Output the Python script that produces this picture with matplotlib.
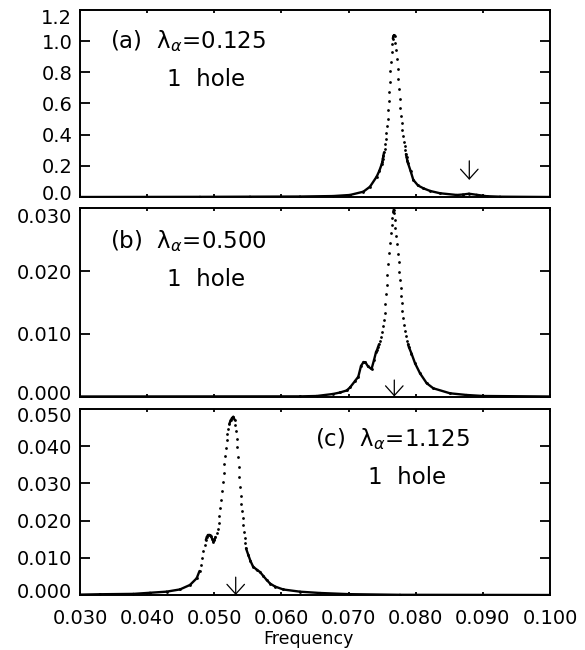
import numpy as np
import matplotlib
matplotlib.use("Agg")
import matplotlib.pyplot as plt
from matplotlib.collections import LineCollection
from matplotlib.transforms import ScaledTranslation

# ---------------- data ----------------
freq_ticks = [0.030, 0.040, 0.050, 0.060, 0.070, 0.080, 0.090, 0.100]
freq_labels = ["0.030", "0.040", "0.050", "0.060", "0.070", "0.080", "0.090", "0.100"]

a_ticks = [0.0, 0.2, 0.4, 0.6, 0.8, 1.0, 1.2]
a_labels = ["0.0", "0.2", "0.4", "0.6", "0.8", "1.0", "1.2"]
b_ticks = [0.000, 0.010, 0.020, 0.030]
b_labels = ["0.000", "0.010", "0.020", "0.030"]
c_ticks = [0.000, 0.010, 0.020, 0.030, 0.040, 0.050]
c_labels = ["0.000", "0.010", "0.020", "0.030", "0.040", "0.050"]

# panel (a)  lambda_alpha = 0.125
a_freq = [0.03000, 0.04787, 0.05532, 0.06277, 0.06768, 0.07021, 0.07220, 0.07319,
          0.07419, 0.07458,
          0.07494, 0.07503, 0.07510, 0.07519, 0.07528, 0.07537, 0.07546, 0.07555,
          0.07564, 0.07573, 0.07580, 0.07589, 0.07598, 0.07607, 0.07616, 0.07623,
          0.07632, 0.07641, 0.07650, 0.07659, 0.07666, 0.07677,
          0.07687, 0.07698, 0.07708, 0.07719, 0.07729, 0.07739, 0.07750, 0.07760,
          0.07771, 0.07781, 0.07792, 0.07802, 0.07812, 0.07823, 0.07833, 0.07844,
          0.07854, 0.07865, 0.07875, 0.07885,
          0.07923, 0.07964, 0.08034, 0.08113, 0.08213, 0.08362, 0.08611, 0.08705,
          0.08794, 0.08909, 0.09058, 0.09256, 0.10000]
a_amp = [0.000, 0.001, 0.002, 0.003, 0.006, 0.013, 0.034, 0.066,
         0.131, 0.168,
         0.211, 0.226, 0.245, 0.265, 0.286, 0.310, 0.340, 0.372,
         0.411, 0.458, 0.503, 0.557, 0.613, 0.675, 0.740, 0.806,
         0.869, 0.931, 0.981, 1.017, 1.030, 1.039,
         1.034, 0.987, 0.942, 0.886, 0.821, 0.757, 0.692, 0.630,
         0.572, 0.518, 0.475, 0.428, 0.389, 0.355, 0.325, 0.299,
         0.275, 0.254, 0.234, 0.217,
         0.168, 0.110, 0.074, 0.056, 0.039, 0.024, 0.013, 0.016,
         0.021, 0.014, 0.005, 0.002, 0.000]

# panel (b)  lambda_alpha = 0.500
b_freq = [0.03000, 0.06277, 0.06525, 0.06768, 0.06873, 0.06972, 0.07021, 0.07096,
          0.07145, 0.07185, 0.07223, 0.07252, 0.07290, 0.07342, 0.07379, 0.07409,
          0.07424, 0.07438, 0.07453, 0.07468, 0.07483, 0.07498, 0.07513, 0.07523,
          0.07538, 0.07547, 0.07558, 0.07568, 0.07577, 0.07587, 0.07602, 0.07617,
          0.07632, 0.07643, 0.07651, 0.07666, 0.07674,
          0.07681, 0.07687, 0.07696, 0.07711, 0.07721, 0.07732, 0.07747, 0.07756,
          0.07766, 0.07777, 0.07786, 0.07792, 0.07801, 0.07815, 0.07826, 0.07841,
          0.07856, 0.07870, 0.07885, 0.07900,
          0.07937, 0.07990, 0.08064, 0.08164, 0.08262, 0.08511, 0.08760, 0.09007,
          0.10000]
b_amp = [0.00000, 0.00002, 0.00008, 0.00040, 0.00064, 0.00096, 0.00144, 0.00247,
         0.00316, 0.00487, 0.00550, 0.00543, 0.00479, 0.00439, 0.00582, 0.00710,
         0.00742, 0.00785, 0.00833, 0.00890, 0.00954, 0.01034, 0.01125, 0.01221,
         0.01337, 0.01476, 0.01628, 0.01779, 0.01944, 0.02114, 0.02285, 0.02454,
         0.02609, 0.02737, 0.02853, 0.02952, 0.02984,
         0.02923, 0.02816, 0.02694, 0.02566, 0.02429, 0.02269, 0.02141, 0.01991,
         0.01854, 0.01727, 0.01604, 0.01487, 0.01369, 0.01248, 0.01141, 0.01050,
         0.00965, 0.00890, 0.00833, 0.00785,
         0.00686, 0.00530, 0.00370, 0.00211, 0.00131, 0.00051, 0.00024, 0.00008,
         0.00000]

# panel (c)  lambda_alpha = 1.125
c_freq = [0.03000, 0.03298, 0.03794, 0.04043, 0.04291, 0.04489, 0.04638, 0.04738,
          0.04780, 0.04802, 0.04822, 0.04839, 0.04857, 0.04874, 0.04889, 0.04906,
          0.04929, 0.04951, 0.04971, 0.04985, 0.05003, 0.05018,
          0.05036, 0.05051, 0.05066, 0.05076, 0.05087, 0.05099, 0.05113, 0.05125,
          0.05140, 0.05152, 0.05163, 0.05173, 0.05185, 0.05195, 0.05204, 0.05224,
          0.05243, 0.05264, 0.05283,
          0.05304, 0.05313, 0.05324, 0.05334, 0.05343, 0.05353, 0.05364, 0.05373,
          0.05383, 0.05394, 0.05402, 0.05413, 0.05423, 0.05432, 0.05443, 0.05453,
          0.05462, 0.05472,
          0.05507, 0.05539, 0.05577, 0.05629, 0.05681, 0.05730, 0.05781, 0.05830,
          0.05904, 0.06028, 0.06277, 0.06575, 0.07021, 0.07766, 0.10000]
c_amp = [0.00010, 0.00020, 0.00030, 0.00060, 0.00090, 0.00150, 0.00270, 0.00450,
         0.00645, 0.00806, 0.00995, 0.01183, 0.01344, 0.01478, 0.01559, 0.01613,
         0.01613, 0.01573, 0.01505, 0.01438, 0.01478, 0.01559,
         0.01659, 0.01766, 0.01927, 0.02124, 0.02331, 0.02554, 0.02796, 0.03038,
         0.03280, 0.03522, 0.03750, 0.03965, 0.04167, 0.04328, 0.04462, 0.04597,
         0.04691, 0.04758, 0.04790,
         0.04704, 0.04570, 0.04417, 0.04185, 0.03970, 0.03718, 0.03449, 0.03164,
         0.02895, 0.02661, 0.02446, 0.02266, 0.02062, 0.01882, 0.01702, 0.01524,
         0.01390, 0.01255,
         0.01075, 0.00914, 0.00766, 0.00685, 0.00618, 0.00511, 0.00403, 0.00309,
         0.00228, 0.00148, 0.00089, 0.00054, 0.00022, 0.00005, 0.00000]

# arrows: (frequency, tail value, tip value)
a_arrow = (0.08798, 0.232, 0.110)
b_arrow = (0.07681, 0.00263, 0.0)
c_arrow = (0.05319, 0.0048, 0.0)

panel_texts = [("(a)  λ$_\\alpha$=0.125", "1  hole"),
               ("(b)  λ$_\\alpha$=0.500", "1  hole"),
               ("(c)  λ$_\\alpha$=1.125", "1  hole")]

# ---------------- figure ----------------
W, H = 585, 650
fig = plt.figure(figsize=(W / 100, H / 100), dpi=100)
fig.patch.set_facecolor("white")


def px_axes(x0, y0, x1, y1):
    return fig.add_axes([x0 / W, 1 - y1 / H, (x1 - x0) / W, (y1 - y0) / H])


axA = px_axes(80, 10, 550, 197)
axB = px_axes(80, 208.5, 550, 396.5)
axC = px_axes(80, 409, 550, 595)

FS = 14
TFS = 16.5


def nudge(label, dy_px):
    label.set_transform(label.get_transform() +
                        ScaledTranslation(0, dy_px / 100, fig.dpi_scale_trans))


def style(ax, yticks, ylabels, ylim, show_x, top_shift, bot_shift):
    ax.set_xlim(0.030, 0.100)
    ax.set_ylim(*ylim)
    ax.set_xticks(freq_ticks)
    ax.set_yticks(yticks)
    ax.set_yticklabels(ylabels)
    if show_x:
        ax.set_xticklabels(freq_labels)
    else:
        ax.set_xticklabels([])
    for s in ax.spines.values():
        s.set_linewidth(1.4)
    ax.tick_params(axis="y", direction="in", length=7, width=1.3,
                   left=True, right=True, labelsize=FS, pad=5.5)
    ax.tick_params(axis="x", direction="in", length=2.5, width=1.3,
                   top=True, bottom=True, labelsize=FS, pad=10)
    labs = ax.get_yticklabels()
    nudge(labs[-1], top_shift)
    nudge(labs[0], bot_shift)


def draw_curve(ax, x, y):
    x = np.asarray(x, float)
    y = np.asarray(y, float)
    pts = ax.transData.transform(np.column_stack([x, y]))
    dx = np.abs(np.diff(pts[:, 0]))
    dy = np.abs(np.diff(pts[:, 1]))
    connect = (dx > 1.6) | (dy < 3.5)
    segs = [[(x[i], y[i]), (x[i + 1], y[i + 1])] for i in range(len(x) - 1) if connect[i]]
    lc = LineCollection(segs, colors="black", linewidths=1.7, capstyle="round",
                        joinstyle="round")
    ax.add_collection(lc)
    ax.plot(x, y, "o", ms=2.0, color="black", mec="none")


def draw_arrow(ax, arr):
    f, tail, tip = arr
    ax.annotate("", xy=(f, tip), xytext=(f, tail),
                arrowprops=dict(arrowstyle="->,head_length=0.5,head_width=0.45",
                                lw=0.9, color="black", shrinkA=0, shrinkB=0,
                                mutation_scale=14), annotation_clip=False)


style(axA, a_ticks, a_labels, (0, 1.2), False, -7, 4)
style(axB, b_ticks, b_labels, (0, 0.030), False, -7, 3.5)
style(axC, c_ticks, c_labels, (0, 0.050), True, -6, 4)

draw_curve(axA, a_freq, a_amp)
draw_curve(axB, b_freq, b_amp)
draw_curve(axC, c_freq, c_amp)

draw_arrow(axA, a_arrow)
draw_arrow(axB, b_arrow)
draw_arrow(axC, c_arrow)

axA.text(0.064, 0.834, panel_texts[0][0], transform=axA.transAxes, fontsize=TFS,
         ha="left", va="center")
axA.text(0.185, 0.631, panel_texts[0][1], transform=axA.transAxes, fontsize=TFS,
         ha="left", va="center")
axB.text(0.064, 0.827, panel_texts[1][0], transform=axB.transAxes, fontsize=TFS,
         ha="left", va="center")
axB.text(0.185, 0.625, panel_texts[1][1], transform=axB.transAxes, fontsize=TFS,
         ha="left", va="center")
axC.text(0.500, 0.840, panel_texts[2][0], transform=axC.transAxes, fontsize=TFS,
         ha="left", va="center")
axC.text(0.613, 0.633, panel_texts[2][1], transform=axC.transAxes, fontsize=TFS,
         ha="left", va="center")

axC.set_xlabel("Frequency", fontsize=12.5)
axC.xaxis.set_label_coords(0.487, -0.186)

fig.savefig("out.png", dpi=100, facecolor="white")
